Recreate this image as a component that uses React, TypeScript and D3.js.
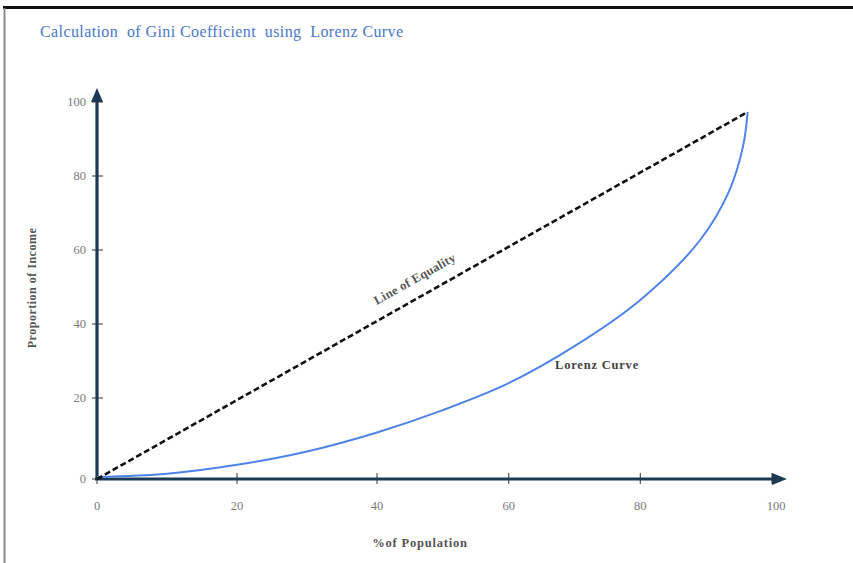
import React from "react";
import * as d3 from "d3";

const xTicks = [0, 20, 40, 60, 80, 100];
const yTicks = [0, 20, 40, 60, 80, 100];
const equalityX = [0, 96.3];
const equalityY = [0, 97.3];
const lorenzX = [0, 10, 20, 30, 40, 50, 60, 70, 80, 89, 93.5, 95.6, 96.3];
const lorenzY = [0.5, 1.3, 3.5, 6.8, 11.5, 17, 24, 34, 46.5, 62.5, 76, 88, 97.3];

const W = 853;
const H = 563;
const FONT = "'Liberation Serif', 'DejaVu Serif', serif";
const AXIS = "#1d3a55";

export default function App() {
  const x = d3.scaleLinear().domain([0, 40, 100]).range([97, 377, 772]);
  const y = d3.scaleLinear().domain([0, 20, 100]).range([479, 398, 102]);

  const lineGen = d3
    .line<[number, number]>()
    .x((d) => x(d[0]))
    .y((d) => y(d[1]));
  const curveGen = d3
    .line<[number, number]>()
    .x((d) => x(d[0]))
    .y((d) => y(d[1]))
    .curve(d3.curveCatmullRom.alpha(0.5));

  const eq: [number, number][] = equalityX.map((v, i) => [v, equalityY[i]]);
  const lz: [number, number][] = lorenzX.map((v, i) => [v, lorenzY[i]]);

  const x0 = x(0);
  const y0 = y(0);
  const ex = x(equalityX[1]);
  const ey = y(equalityY[1]);
  const angle = (Math.atan2(ey - y0, ex - x0) * 180) / Math.PI;
  const f = 0.502;
  const lx = x0 + (ex - x0) * f;
  const ly = y0 + (ey - y0) * f;

  return (
    <svg
      width={W}
      height={H}
      style={{ position: "absolute", left: 0, top: 0, background: "#fff" }}
    >
      {/* frame */}
      <line x1={3} y1={7.5} x2={W} y2={7.5} stroke="#111" strokeWidth={3} />
      <line x1={4.5} y1={8} x2={4.5} y2={H} stroke="#8a8a8a" strokeWidth={2} />

      {/* title */}
      <text
        x={40}
        y={37}
        fontFamily={FONT}
        fontSize={16}
        fill="#4a78c8"
        letterSpacing={0.4}
        style={{ whiteSpace: "pre" }}
      >
        {"Calculation  of Gini Coefficient  using  Lorenz Curve"}
      </text>

      {/* y ticks */}
      {yTicks.map((t) => (
        <g key={"y" + t}>
          <line x1={x0 - 5} x2={x0 + 6} y1={y(t)} y2={y(t)} stroke="#555" strokeWidth={1.2} />
          <text
            x={86}
            y={y(t) + 4}
            textAnchor="end"
            fontFamily={FONT}
            fontSize={12.5}
            fill="#7a7a7a"
          >
            {t}
          </text>
        </g>
      ))}

      {/* x ticks */}
      {xTicks.map((t) => (
        <g key={"x" + t}>
          <line x1={x(t)} x2={x(t)} y1={y0 - 6} y2={y0 + 5} stroke="#555" strokeWidth={1.2} />
          <text
            x={x(t) + (t === 100 ? 4 : 0)}
            y={510}
            textAnchor="middle"
            fontFamily={FONT}
            fontSize={12.5}
            fill="#7a7a7a"
          >
            {t}
          </text>
        </g>
      ))}

      {/* axes */}
      <line x1={x0} y1={y0} x2={x0} y2={98} stroke={AXIS} strokeWidth={3.2} />
      <path d={`M${x0 - 6},${102} L${x0},${88} L${x0 + 6},${102} Z`} fill={AXIS} />
      <line x1={x0 - 2} y1={y0} x2={775} y2={y0} stroke={AXIS} strokeWidth={3.2} />
      <path d={`M${772},${y0 - 6} L${787},${y0} L${772},${y0 + 6} Z`} fill={AXIS} />

      {/* lorenz curve */}
      <path d={curveGen(lz) || ""} fill="none" stroke="#4f83ea" strokeWidth={2} />

      {/* line of equality */}
      <path
        d={lineGen(eq) || ""}
        fill="none"
        stroke="#111"
        strokeWidth={2.6}
        strokeDasharray="6,3"
      />

      {/* labels */}
      <text
        transform={`translate(${lx},${ly}) rotate(${angle}) translate(0,-14)`}
        textAnchor="middle"
        fontFamily={FONT}
        fontSize={12.5}
        fontWeight="bold"
        fill="#555"
        letterSpacing={0.3}
      >
        Line of Equality
      </text>
      <text
        x={555}
        y={369}
        fontFamily={FONT}
        fontSize={12.5}
        fontWeight="bold"
        fill="#444"
        letterSpacing={0.8}
      >
        Lorenz Curve
      </text>
      <text
        transform={`translate(36,288) rotate(-90)`}
        textAnchor="middle"
        fontFamily={FONT}
        fontSize={12}
        fontWeight="bold"
        fill="#555"
        letterSpacing={0.5}
      >
        Proportion of Income
      </text>
      <text
        x={420}
        y={547}
        textAnchor="middle"
        fontFamily={FONT}
        fontSize={12.5}
        fontWeight="bold"
        fill="#555"
        letterSpacing={0.8}
      >
        %of Population
      </text>
    </svg>
  );
}
